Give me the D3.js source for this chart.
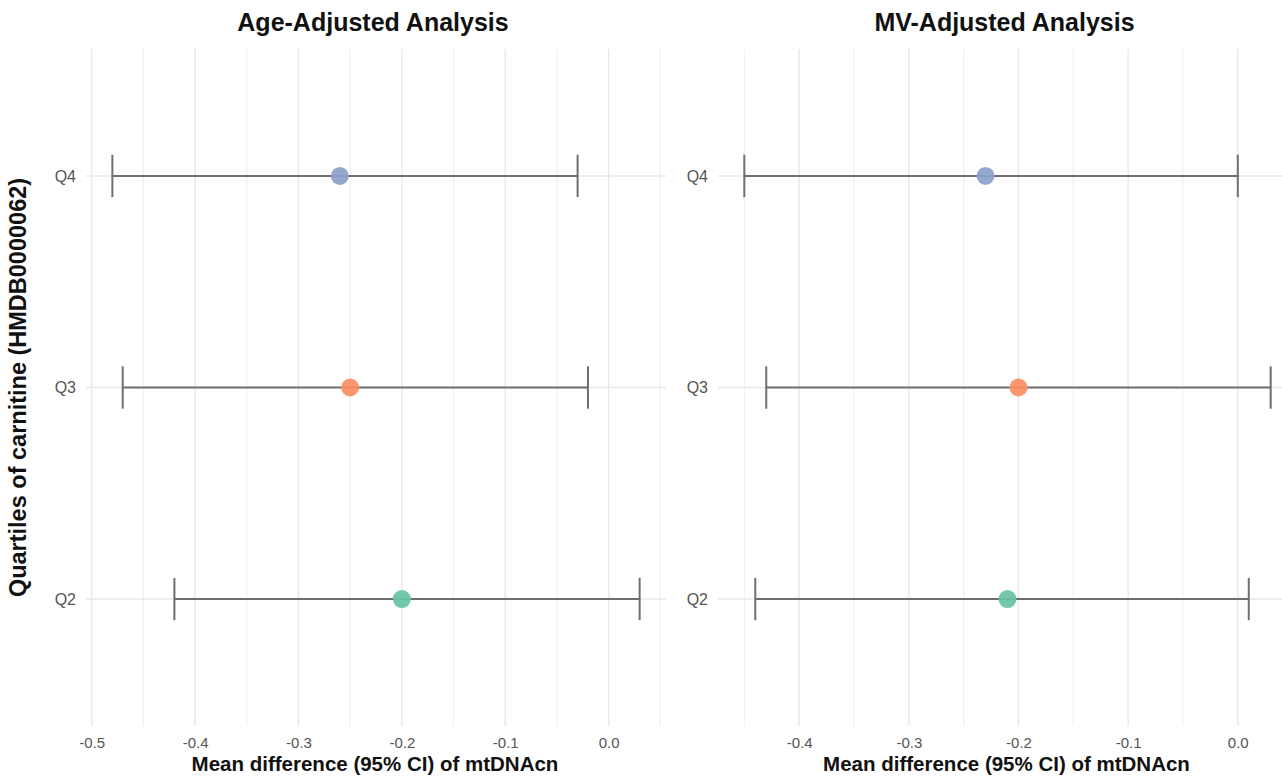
<!DOCTYPE html>
<html>
<head>
<meta charset="UTF-8">
<script src="https://d3js.org/d3.v7.min.js"></script>
<style>
  body { margin: 0; background: #fff; overflow: hidden; }
  svg { display: block; }
  text { font-family: "Liberation Sans", Arial, sans-serif; }
</style>
</head>
<body>
<svg id="canvas"></svg>
<script>
// data
const quartiles = ["Q2", "Q3", "Q4"];
const panelTitles = ["Age-Adjusted Analysis", "MV-Adjusted Analysis"];
const quartileColors = ["#66C2A5", "#FC8D62", "#8DA0CB"];

const ageEst = [-0.20, -0.25, -0.26];
const ageLow = [-0.42, -0.47, -0.48];
const ageHigh = [0.03, -0.02, -0.03];

const mvEst = [-0.21, -0.20, -0.23];
const mvLow = [-0.44, -0.43, -0.45];
const mvHigh = [0.01, 0.03, 0.00];

const ageTicks = [-0.5, -0.4, -0.3, -0.2, -0.1, 0.0];
const mvTicks = [-0.4, -0.3, -0.2, -0.1, 0.0];

const xTitle = "Mean difference (95% CI) of mtDNAcn";
const yTitle = "Quartiles of carnitine (HMDB0000062)";

const width = 1282, height = 776;
const plotTop = 49, plotBottom = 726;

const svg = d3.select("#canvas")
  .attr("width", width)
  .attr("height", height);

const panels = [
  { title: panelTitles[0], est: ageEst, low: ageLow, high: ageHigh, ticks: ageTicks, x0: 86, x1: 666 },
  { title: panelTitles[1], est: mvEst, low: mvLow, high: mvHigh, ticks: mvTicks, x0: 718, x1: 1297 }
];

const y = d3.scalePoint()
  .domain(quartiles.slice().reverse())
  .range([plotTop, plotBottom])
  .padding(0.6);

panels.forEach(p => {
  const rows = quartiles.map((q, i) => ({ q: q, est: p.est[i], low: p.low[i], high: p.high[i], color: quartileColors[i] }));

  // ggplot-like 5% expansion
  const lo = d3.min(p.low), hi = d3.max(p.high);
  const pad = (hi - lo) * 0.05;
  const x = d3.scaleLinear().domain([lo - pad, hi + pad]).range([p.x0, p.x1]);

  const g = svg.append("g");

  // minor grid at half steps
  const step = p.ticks[1] - p.ticks[0];
  const minor = [];
  for (let k = -1; k < p.ticks.length; k++) {
    const v = (k < 0 ? p.ticks[0] - step : p.ticks[k]) + step / 2;
    if (v >= x.domain()[0] && v <= x.domain()[1]) minor.push(v);
  }
  g.append("g").selectAll("line").data(minor).enter().append("line")
    .attr("x1", d => x(d)).attr("x2", d => x(d))
    .attr("y1", plotTop).attr("y2", plotBottom)
    .attr("stroke", "#f0f0f0").attr("stroke-width", 1.2);

  g.append("g").selectAll("line").data(p.ticks).enter().append("line")
    .attr("x1", d => x(d)).attr("x2", d => x(d))
    .attr("y1", plotTop).attr("y2", plotBottom)
    .attr("stroke", "#e8e8e8").attr("stroke-width", 1.4);

  g.append("g").selectAll("line").data(quartiles).enter().append("line")
    .attr("x1", p.x0).attr("x2", p.x1)
    .attr("y1", d => y(d)).attr("y2", d => y(d))
    .attr("stroke", "#e8e8e8").attr("stroke-width", 1.4);

  // error bars
  const capH = y.step() * 0.1;
  const eb = g.append("g").selectAll("g").data(rows).enter().append("g")
    .attr("stroke", "#6e6e6e").attr("stroke-width", 2);
  eb.append("line")
    .attr("x1", d => x(d.low)).attr("x2", d => x(d.high))
    .attr("y1", d => y(d.q)).attr("y2", d => y(d.q));
  eb.append("line")
    .attr("x1", d => x(d.low)).attr("x2", d => x(d.low))
    .attr("y1", d => y(d.q) - capH).attr("y2", d => y(d.q) + capH);
  eb.append("line")
    .attr("x1", d => x(d.high)).attr("x2", d => x(d.high))
    .attr("y1", d => y(d.q) - capH).attr("y2", d => y(d.q) + capH);

  // points
  g.append("g").selectAll("circle").data(rows).enter().append("circle")
    .attr("cx", d => x(d.est)).attr("cy", d => y(d.q))
    .attr("r", 9)
    .attr("fill", d => d.color)
    .attr("fill-opacity", 0.92);

  // x axis labels (plain hyphen like R)
  const xa = g.append("g")
    .attr("transform", "translate(0," + plotBottom + ")")
    .call(d3.axisBottom(x).tickValues(p.ticks).tickFormat(d => d.toFixed(1)).tickSize(0).tickPadding(11));
  xa.select(".domain").remove();
  xa.selectAll("text")
    .attr("fill", "#555")
    .style("font-size", "15px")
    .style("font-family", "'Liberation Sans', Arial, sans-serif");

  // y axis labels
  const ya = g.append("g")
    .attr("transform", "translate(" + p.x0 + ",0)")
    .call(d3.axisLeft(y).tickSize(0).tickPadding(10));
  ya.select(".domain").remove();
  ya.selectAll("text")
    .attr("fill", "#555")
    .style("font-size", "16px")
    .style("font-family", "'Liberation Sans', Arial, sans-serif");

  g.append("text")
    .attr("x", (p.x0 + p.x1) / 2 - 3)
    .attr("y", 31)
    .attr("text-anchor", "middle")
    .style("font-size", "25px")
    .style("font-weight", "bold")
    .attr("fill", "#111")
    .text(p.title);

  g.append("text")
    .attr("x", (p.x0 + p.x1) / 2 - 1)
    .attr("y", 771)
    .attr("text-anchor", "middle")
    .style("font-size", "20.5px")
    .style("font-weight", "bold")
    .attr("fill", "#111")
    .text(xTitle);
});

svg.append("text")
  .attr("transform", "translate(26," + ((plotTop + plotBottom) / 2) + ") rotate(-90)")
  .attr("text-anchor", "middle")
  .style("font-size", "23.5px")
  .style("font-weight", "bold")
  .attr("fill", "#111")
  .text(yTitle);
</script>
</body>
</html>
